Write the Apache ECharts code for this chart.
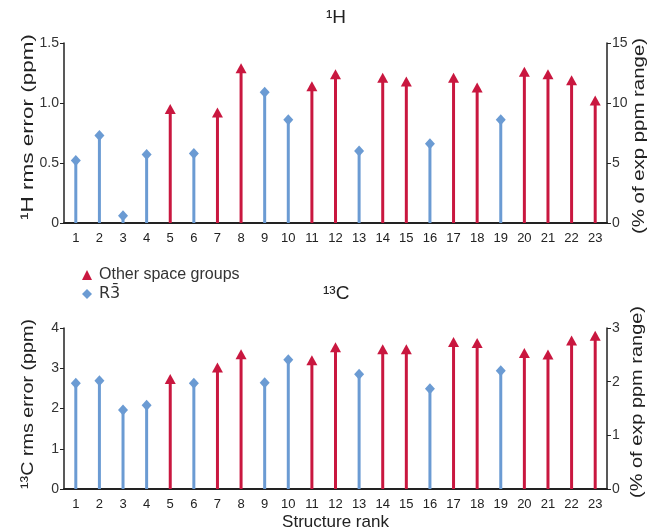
<!DOCTYPE html>
<html>
<head>
<meta charset="utf-8">
<script src="https://cdn.jsdelivr.net/npm/echarts@6/dist/echarts.min.js"></script>
<style>
  html, body { margin: 0; padding: 0; background: #fff; }
  #main { width: 648px; height: 529px; }
</style>
</head>
<body>
<div id="main"></div>
<script>
// structure ranks 1..23
var ranks = ['1','2','3','4','5','6','7','8','9','10','11','12','13','14','15','16','17','18','19','20','21','22','23'];
// 'R' = R-3 space group, 'O' = other space groups
var groups = ['R','R','R','R','O','R','O','O','R','R','O','O','R','O','O','R','O','O','R','O','O','O','O'];
// 1H rms error (ppm)
var hError = [0.52, 0.73, 0.06, 0.57, 0.95, 0.58, 0.92, 1.29, 1.09, 0.86, 1.14, 1.24, 0.60, 1.21, 1.18, 0.66, 1.21, 1.13, 0.86, 1.26, 1.24, 1.19, 1.02];
// 13C rms error (ppm)
var cError = [2.63, 2.69, 1.96, 2.08, 2.73, 2.63, 3.02, 3.35, 2.64, 3.21, 3.20, 3.52, 2.85, 3.47, 3.47, 2.49, 3.65, 3.63, 2.94, 3.38, 3.34, 3.69, 3.81];

var RED = '#c9173f';
var BLUE = '#6b9bd3';
var FONT = 'Liberation Sans, Arial, sans-serif';
var R3BAR = 'R3\u0304';

var chart = echarts.init(document.getElementById('main'));

function pick(vals, g) {
  return vals.map(function (v, i) { return groups[i] === g ? v : '-'; });
}
function stems(vals) {
  return vals.map(function (v, i) {
    return { value: v, itemStyle: { color: groups[i] === 'R' ? BLUE : RED } };
  });
}

// the y titles in the figure are drawn stretched along their length
var measureCtx = document.createElement('canvas').getContext('2d');
function yTitle(text, x, y, len) {
  measureCtx.font = '17px ' + FONT;
  var w = measureCtx.measureText(text).width;
  return {
    type: 'text', x: x, y: y, rotation: Math.PI / 2, scaleX: len / w, silent: true,
    style: { text: text, fontSize: 17, fontFamily: FONT, fill: '#222',
      align: 'center', verticalAlign: 'middle', textAlign: 'center', textVerticalAlign: 'middle' }
  };
}

function xAxisFor(gi, withName) {
  return {
    type: 'category', gridIndex: gi, data: ranks,
    boundaryGap: true,
    axisLine: { lineStyle: { color: '#222', width: 2 } },
    axisTick: { show: false },
    axisLabel: { color: '#222', fontSize: 13, fontFamily: FONT, margin: 9, interval: 0 },
    name: withName ? 'Structure rank' : '',
    nameLocation: 'middle', nameGap: 25,
    nameTextStyle: { color: '#222', fontSize: 17, fontFamily: FONT }
  };
}
function yAxisFor(gi, pos, max, interval, fmt) {
  return {
    type: 'value', gridIndex: gi, position: pos, min: 0, max: max, interval: interval,
    splitLine: { show: false },
    axisLine: { show: true, lineStyle: { color: '#222', width: 1.5 } },
    axisTick: { show: true, inside: false, length: 4, lineStyle: { color: '#222' } },
    axisLabel: { color: '#333', fontSize: 14, fontFamily: FONT, margin: 5, formatter: fmt }
  };
}

var option = {
  animation: false,
  backgroundColor: '#fff',
  title: [
    { text: '\u00b9H', left: 321, top: 3,
      textStyle: { fontSize: 19, fontWeight: 'normal', fontFamily: FONT, color: '#222' } },
    { text: '\u00b9\u00b3C', left: 318, top: 279,
      textStyle: { fontSize: 19, fontWeight: 'normal', fontFamily: FONT, color: '#222' } }
  ],
  legend: {
    orient: 'vertical', left: 77, top: 262, itemGap: 3,
    itemWidth: 10, itemHeight: 10,
    textStyle: { color: '#333', fontSize: 16, fontFamily: FONT, padding: [0, 0, 0, 2],
      rich: { d: { fontSize: 16, fontFamily: 'DejaVu Sans', color: '#333' } } },
    formatter: function (name) { return name === R3BAR ? '{d|' + name + '}' : name; },
    data: [
      { name: 'Other space groups', icon: 'triangle', itemStyle: { color: RED } },
      { name: R3BAR, icon: 'diamond', itemStyle: { color: BLUE } }
    ]
  },
  grid: [
    { left: 64, right: 41, top: 43, height: 180, outerBoundsMode: 'none' },
    { left: 64, right: 41, top: 328, height: 161, outerBoundsMode: 'none' }
  ],
  xAxis: [xAxisFor(0, false), xAxisFor(1, true)],
  yAxis: [
    yAxisFor(0, 'left', 1.5, 0.5, function (v) { return v === 0 ? '0' : v.toFixed(1); }),
    yAxisFor(0, 'right', 15, 5, null),
    yAxisFor(1, 'left', 4, 1, null),
    yAxisFor(1, 'right', 3, 1, null)
  ],
  graphic: [
    yTitle('\u00b9H rms error (ppm)', 28, 127, 186),
    yTitle('(% of exp ppm range)', 639, 136, 196),
    yTitle('\u00b9\u00b3C rms error (ppm)', 28, 404, 170),
    yTitle('(% of exp ppm range)', 637, 402, 192)
  ],
  series: [
    { type: 'bar', xAxisIndex: 0, yAxisIndex: 0, barWidth: 3, data: stems(hError), silent: true },
    { name: 'Other space groups', type: 'scatter', xAxisIndex: 0, yAxisIndex: 0, symbol: 'triangle', symbolSize: [11, 10], itemStyle: { color: RED, opacity: 1 }, data: pick(hError, 'O') },
    { name: R3BAR, type: 'scatter', xAxisIndex: 0, yAxisIndex: 0, symbol: 'diamond', symbolSize: [10, 11], itemStyle: { color: BLUE, opacity: 1 }, data: pick(hError, 'R') },
    { type: 'bar', xAxisIndex: 1, yAxisIndex: 2, barWidth: 3, data: stems(cError), silent: true },
    { name: 'Other space groups', type: 'scatter', xAxisIndex: 1, yAxisIndex: 2, symbol: 'triangle', symbolSize: [11, 10], itemStyle: { color: RED, opacity: 1 }, data: pick(cError, 'O') },
    { name: R3BAR, type: 'scatter', xAxisIndex: 1, yAxisIndex: 2, symbol: 'diamond', symbolSize: [10, 11], itemStyle: { color: BLUE, opacity: 1 }, data: pick(cError, 'R') }
  ]
};
chart.setOption(option);
</script>
</body>
</html>
